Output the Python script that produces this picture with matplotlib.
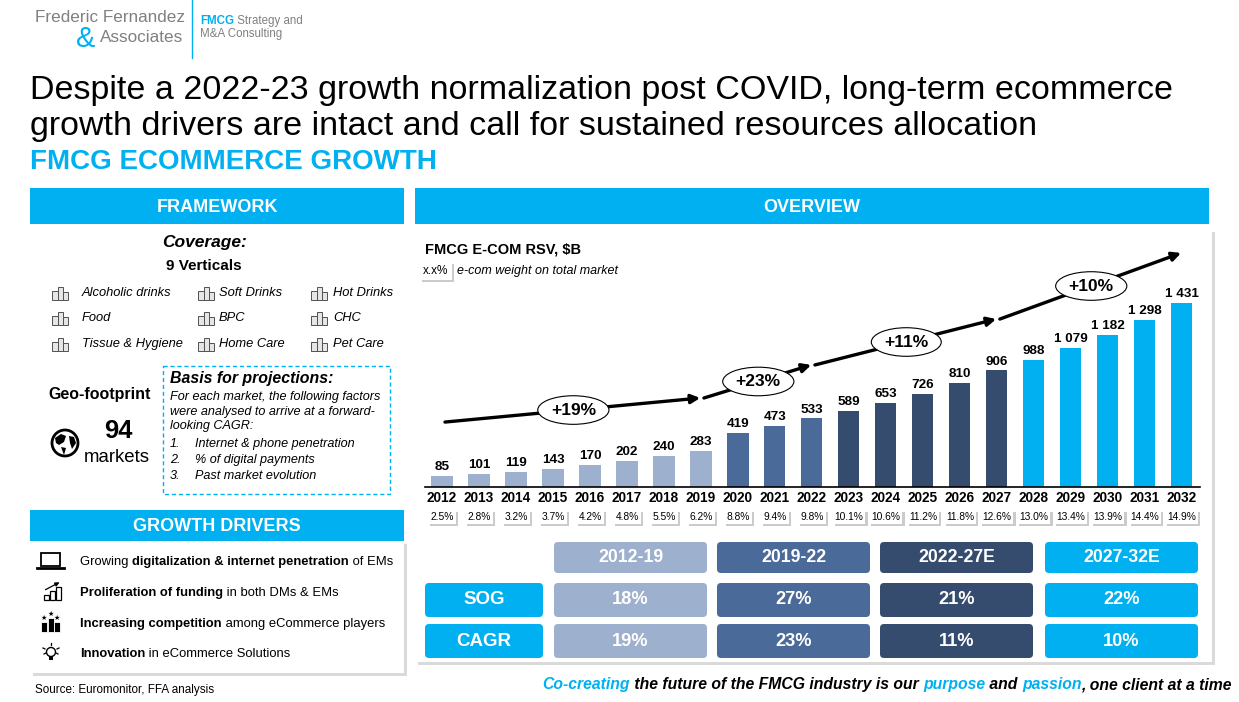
import matplotlib
matplotlib.use("Agg")
import matplotlib.pyplot as plt
import matplotlib.patheffects as pe
from matplotlib import font_manager
from matplotlib.patches import FancyBboxPatch, Circle, Polygon, Rectangle

W, H = 1239, 702
BLUE = '#00B0F0'
GREY = '#808080'
SANS = ['Liberation Sans', 'DejaVu Sans']
HAS_NARROW = any(f.name == 'Liberation Sans Narrow' for f in font_manager.fontManager.ttflist)
NARROW = ['Liberation Sans Narrow'] + SANS if HAS_NARROW else SANS
NS = 1.0 if HAS_NARROW else 0.82   # shrink narrow text when the narrow face is missing
plt.rcParams['font.family'] = SANS

# ---- data ----
years = list(range(2012, 2033))
rsv = [85, 101, 119, 143, 170, 202, 240, 283, 419, 473, 533,
       589, 653, 726, 810, 906, 988, 1079, 1182, 1298, 1431]
ecom_weight = [2.5, 2.8, 3.2, 3.7, 4.2, 4.8, 5.5, 6.2, 8.8, 9.4, 9.8,
               10.1, 10.6, 11.2, 11.8, 12.6, 13.0, 13.4, 13.9, 14.4, 14.9]
periods = ['2012-19', '2019-22', '2022-27E', '2027-32E']
period_start = [0, 7, 10, 15]
period_end = [7, 10, 15, 20]
sog = [18, 27, 21, 22]
cagr = [19, 23, 11, 10]
period_colors = ['#9DB0CE', '#4A6A99', '#364C6E', BLUE]

verticals = [['Alcoholic drinks', 'Soft Drinks', 'Hot Drinks'],
             ['Food', 'BPC', 'CHC'],
             ['Tissue & Hygiene', 'Home Care', 'Pet Care']]
drivers = [[('Growing ', 'normal'), ('digitalization & internet penetration', 'bold'), (' of EMs', 'normal')],
           [('Proliferation of funding', 'bold'), (' in both DMs & EMs', 'normal')],
           [('Increasing competition', 'bold'), (' among eCommerce players', 'normal')],
           [('Innovation', 'bold'), (' in eCommerce Solutions', 'normal')]]
basis_lines = ['For each market, the following factors',
               'were analysed to arrive at a forward-',
               'looking CAGR:']
basis_items = ['Internet & phone penetration', '% of digital payments', 'Past market evolution']

# trend arrow levels (in $B on the chart scale) at each period boundary
arrow_levels = [505, 692, 949, 1306, 1820]

fig = plt.figure(figsize=(W / 100, H / 100), dpi=100)
bg = fig.add_axes([0, 0, 1, 1])
bg.set_xlim(0, W)
bg.set_ylim(H, 0)
bg.axis('off')
renderer = fig.canvas.get_renderer()


def box(x, y, w, h, fc, r=0, ec='none', lw=0, ls='-', z=1):
    style = f"round,pad=0,rounding_size={r}" if r else "square,pad=0"
    p = FancyBboxPatch((x, y), w, h, boxstyle=style, fc=fc, ec=ec, lw=lw, ls=ls, zorder=z)
    bg.add_patch(p)
    return p


def rich(x, y, parts, size, family=SANS, style='normal', right=False, z=3):
    # parts: (text, color, weight) laid out on one baseline; y is the baseline
    texts = [bg.text(0, y, txt, color=col, fontweight=wt, fontsize=size, family=family,
                     style=style, va='baseline', ha='left', zorder=z) for txt, col, wt in parts]
    widths = [t.get_window_extent(renderer).width for t in texts]
    cur = x - sum(widths) if right else x
    for t, w in zip(texts, widths):
        t.set_x(cur)
        cur += w


def header(x, y, w, h, label):
    box(x, y, w, h, BLUE)
    bg.text(x + w / 2, y + h / 2 + 1, label, color='white', fontsize=13, fontweight='bold',
            ha='center', va='center')


def shadow_panel(x, y, w, h):
    box(x + 3, y + 3, w, h, '#DADADA', z=0.5)
    box(x, y, w, h, 'white', z=0.6)


# ---- logo ----
bg.text(35, 18, 'Frederic Fernandez', color=GREY, fontsize=12.3, va='center')
bg.text(76, 39, '&', color=BLUE, fontsize=21, va='center')
bg.text(100, 37, 'Associates', color=GREY, fontsize=12.3, va='center')
bg.plot([192, 192], [0, 58], color=BLUE, lw=1)
rich(200, 24, [('FMCG', BLUE, 'bold'), (' Strategy and', GREY, 'normal')], 8.3)
bg.text(200, 34, 'M&A Consulting', color=GREY, fontsize=8.3, va='center')

# ---- titles ----
bg.text(30, 90, 'Despite a 2022-23 growth normalization post COVID, long-term ecommerce',
        fontsize=24.5, va='center')
bg.text(30, 126, 'growth drivers are intact and call for sustained resources allocation',
        fontsize=24.5, va='center')
bg.text(30, 162, 'FMCG ECOMMERCE GROWTH', fontsize=20, fontweight='bold', color=BLUE, va='center')

header(30, 188, 374, 36, 'FRAMEWORK')
header(415, 188, 794, 36, 'OVERVIEW')

# ---- framework: coverage ----
bg.text(205, 243, 'Coverage:', fontsize=12.5, fontweight='bold', style='italic', ha='center', va='center')
bg.text(204, 266, '9 Verticals', fontsize=11, fontweight='bold', ha='center', va='center')


def product_icon(cx, cy):
    for dx, w, h in [(-7, 6, 9), (-1, 5, 13), (4, 5, 8)]:
        bg.add_patch(Rectangle((cx + dx, cy + 7 - h), w, h, fc='#E6E6E6', ec='#505050', lw=0.7, zorder=3))


col_icon = [59, 205, 318]
col_text = [82, 219, 333]
row_y = [293, 318, 344]
for r, row in enumerate(verticals):
    for c, name in enumerate(row):
        product_icon(col_icon[c], row_y[r])
        bg.text(col_text[c], row_y[r], name, fontsize=9.3, style='italic', va='center')

# ---- framework: geo footprint ----
bg.text(100, 395, 'Geo-footprint', fontsize=11.5, fontweight='bold', ha='center', va='center')
bg.add_patch(Circle((65, 443), 13, fc='white', ec='black', lw=2, zorder=3))
bg.add_patch(Polygon([[55, 438], [61, 434], [66, 436], [64, 442], [59, 445], [56, 443]], fc='black', zorder=4))
bg.add_patch(Polygon([[61, 447], [66, 448], [64, 455]], fc='black', zorder=4))
bg.add_patch(Polygon([[69, 436], [74, 437], [76, 443], [72, 449], [70, 443]], fc='black', zorder=4))
bg.text(118, 431, '94', fontsize=22.4 * NS, fontweight='bold', family=NARROW, ha='center', va='center')
bg.text(117, 457, 'markets', fontsize=13.4, ha='center', va='center')

box(163, 366, 227, 128, 'none', ec=BLUE, lw=1, ls=(0, (3, 2)), z=2)
bg.text(170, 378, 'Basis for projections:', fontsize=11.4, fontweight='bold', style='italic', va='center')
for i, line in enumerate(basis_lines):
    bg.text(170, 397 + 14.5 * i, line, fontsize=9.1, style='italic', va='center')
for i, item in enumerate(basis_items):
    bg.text(170, 444 + 16 * i, f'{i + 1}.', fontsize=9.1, style='italic', va='center')
    bg.text(195, 444 + 16 * i, item, fontsize=9.1, style='italic', va='center')

# ---- growth drivers ----
header(30, 510, 374, 31, 'GROWTH DRIVERS')
shadow_panel(30, 541, 374, 132)
drv_y = [561, 592, 623, 653]
for yy, parts in zip(drv_y, drivers):
    rich(80, yy + 4, [(t, 'black', w) for t, w in parts], 9.4)
# icons
bg.add_patch(Rectangle((41, drv_y[0] - 8), 19, 13, fc='white', ec='black', lw=1.3, zorder=3))
bg.plot([37, 64], [drv_y[0] + 7, drv_y[0] + 7], color='black', lw=2, zorder=3)
for k, hh in enumerate([5, 9, 13]):
    bg.add_patch(Rectangle((44 + 6 * k, drv_y[1] + 8 - hh), 5, hh, fc='white', ec='black', lw=0.9, zorder=3))
bg.annotate('', xy=(62, drv_y[1] - 11), xytext=(43, drv_y[1] - 1),
            arrowprops=dict(arrowstyle='-|>', lw=0.9, color='black', mutation_scale=6))
for k, hh in enumerate([10, 14, 10]):
    bg.add_patch(Rectangle((41 + 6.5 * k, drv_y[2] + 9 - hh), 6, hh, fc='black', ec='white', lw=0.6, zorder=3))
    bg.text(44 + 6.5 * k, drv_y[2] + 9 - hh - 4, '★', fontsize=5, ha='center', va='center',
            family='DejaVu Sans')
bg.add_patch(Circle((51, drv_y[3] - 1), 4.5, fc='white', ec='black', lw=1, zorder=3))
bg.add_patch(Rectangle((49, drv_y[3] + 3), 4, 4, fc='black', zorder=3))
for x0, y0, x1, y1 in [(51, -10, 51, -8), (43, -5, 45, -4), (59, -5, 57, -4), (44, 1, 46, 0), (58, 1, 56, 0)]:
    bg.plot([x0, x1], [drv_y[3] + y0, drv_y[3] + y1], color='black', lw=0.9, zorder=3)

bg.text(35, 690, 'Source: Euromonitor, FFA analysis', fontsize=8.4, va='center')

# ---- overview panel ----
shadow_panel(415, 229, 797, 433)
bg.text(425, 250, 'FMCG E-COM RSV, $B', fontsize=10.5, fontweight='bold', va='center')
t = bg.text(436, 271, 'x.x%', fontsize=8.5, ha='center', va='center', family=NARROW,
            bbox=dict(boxstyle='square,pad=0.25', fc='white', ec='none'), zorder=3)
t.get_bbox_patch().set_path_effects([pe.SimplePatchShadow(offset=(1.5, -1.5), shadow_rgbFace='#999999',
                                                          alpha=0.5), pe.Normal()])
bg.text(457, 271, 'e-com weight on total market', fontsize=9, style='italic', va='center')

# ---- bar chart ----
left, right, top, base = 425, 1200, 250, 487
ax = fig.add_axes([left / W, 1 - base / H, (right - left) / W, (base - top) / H])
ax.set_facecolor('none')
x = list(range(len(years)))
bar_colors = []
for i in x:
    p = 0 if i <= 7 else 1 if i <= 10 else 2 if i <= 15 else 3
    bar_colors.append(period_colors[p])
ax.bar(x, rsv, width=0.57, color=bar_colors, zorder=2)
ax.set_xlim(-0.46, 20.49)
ax.set_ylim(0, 1843)
for s in ['top', 'right', 'left']:
    ax.spines[s].set_visible(False)
ax.spines['bottom'].set_linewidth(1.2)
ax.set_yticks([])
ax.set_xticks(x, [str(y) for y in years])
ax.tick_params(axis='x', length=0, pad=3)
for lab in ax.get_xticklabels():
    lab.set_fontfamily(NARROW)
    lab.set_fontsize(12 * NS)
    lab.set_fontweight('bold')

for i, v in zip(x, rsv):
    ax.text(i, v + 22, f'{v:,}'.replace(',', ' '), ha='center', va='bottom', fontsize=9.7,
            fontweight='bold')
    t = ax.text(i, -0.125, f'{ecom_weight[i]:.1f}%', transform=ax.get_xaxis_transform(), ha='center',
                va='center', fontsize=9.0 * NS, family=NARROW, clip_on=False,
                bbox=dict(boxstyle='square,pad=0.2', fc='white', ec='none'))
    t.get_bbox_patch().set_path_effects([pe.SimplePatchShadow(offset=(1.5, -1.5), shadow_rgbFace='#999999',
                                                              alpha=0.5), pe.Normal()])

# trend arrows with CAGR bubbles
for k in range(len(periods)):
    x0, x1 = period_start[k], period_end[k]
    y0, y1 = arrow_levels[k], arrow_levels[k + 1]
    ax.annotate('', xy=(x1 - 0.02, y1), xytext=(x0 + 0.08, y0), annotation_clip=False,
                arrowprops=dict(arrowstyle='-|>', lw=2.4, color='black', mutation_scale=13,
                                shrinkA=0, shrinkB=0))
    ax.text((x0 + x1) / 2 + 0.05, (y0 + y1) / 2, f'+{cagr[k]}%', ha='center', va='center', fontsize=12.5,
            fontweight='bold', zorder=5, clip_on=False,
            bbox=dict(boxstyle='ellipse,pad=0.15', fc='white', ec='black', lw=0.8))

# ---- summary table ----
col_x = [554, 717, 880, 1045]
col_w = 153
rows = [('SOG', sog, 583), ('CAGR', cagr, 624)]
for c, name in enumerate(periods):
    box(col_x[c], 542, col_w, 31, period_colors[c], r=4, z=2)
    bg.text(col_x[c] + col_w / 2, 558, name, color='white', fontsize=15.5 * NS, fontweight='bold',
            family=NARROW, ha='center', va='center', zorder=3)
for label, vals, yy in rows:
    box(425, yy, 118, 34, BLUE, r=4, z=2)
    bg.text(484, yy + 17, label, color='white', fontsize=13.5, fontweight='bold',
            ha='center', va='center', zorder=3)
    for c, v in enumerate(vals):
        box(col_x[c], yy, col_w, 34, period_colors[c], r=4, z=2)
        bg.text(col_x[c] + col_w / 2, yy + 17, f'{v}%', color='white', fontsize=16 * NS,
                fontweight='bold', family=NARROW, ha='center', va='center', zorder=3)

# ---- footer ----
rich(1232, 689, [('Co-creating', BLUE, 'bold'), (' the future of the FMCG industry is our ', 'black', 'bold'),
                 ('purpose', BLUE, 'bold'), (' and ', 'black', 'bold'), ('passion', BLUE, 'bold'),
                 (', one client at a time', 'black', 'bold')],
     13.8 * NS, family=NARROW, style='italic', right=True)

fig.savefig('out.png', dpi=100)
